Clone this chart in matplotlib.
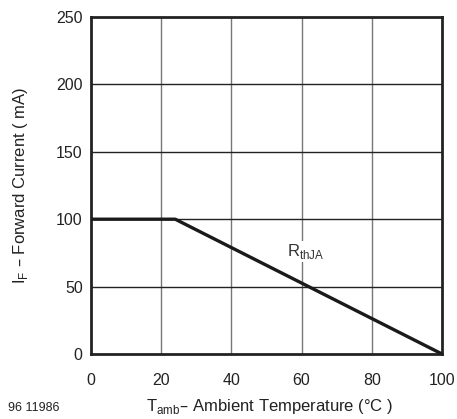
import matplotlib
matplotlib.use("Agg")
import matplotlib.pyplot as plt

# derating curve
temp = [0, 24, 100]
current = [100, 100, 0]

x_ticks = [0, 20, 40, 60, 80, 100]
y_ticks = [0, 50, 100, 150, 200, 250]

plt.rcParams['font.family'] = ['Liberation Sans', 'DejaVu Sans']

fig = plt.figure(figsize=(4.57, 4.19), dpi=100)
ax = fig.add_axes([91 / 457, 1 - 354 / 419, 351 / 457, 337 / 419])

ax.plot(temp, current, color="#1a1a1a", lw=2.4, solid_capstyle="butt", zorder=4)

ax.set_xlim(0, 100)
ax.set_ylim(0, 250)
ax.set_xticks(x_ticks)
ax.set_yticks(y_ticks)
ax.tick_params(direction="in", length=0, labelsize=11.5, colors="#222222")
ax.tick_params(axis="x", pad=14)
ax.tick_params(axis="y", pad=6)

for x in x_ticks[1:-1]:
    ax.axvline(x, color="#777777", lw=1.0, zorder=1)
for y in y_ticks[1:-1]:
    ax.axhline(y, color="#222222", lw=1.0, zorder=1)

for s in ax.spines.values():
    s.set_linewidth(2.0)
    s.set_color("#222222")

ax.text(55.8, 76, r"R$_{\mathregular{thJA}}$", fontsize=12, color="#333333",
        va="center", ha="left", zorder=3,
        bbox=dict(facecolor="white", edgecolor="none", pad=1))

fig.text(270 / 457, 1 - 406 / 419, r"T$_{\mathregular{amb}}$– Ambient Temperature (°C )",
         fontsize=12, color="#222222", ha="center", va="center")
fig.text(21 / 457, 1 - 185 / 419, r"I$_{\mathregular{F}}$ – Forward Current ( mA)",
         fontsize=12, color="#222222", ha="center", va="center", rotation=90)

fig.text(8 / 457, 1 - 408 / 419, "96 11986", fontsize=9, color="#222222", va="center")

fig.savefig("out.png", dpi=100)
